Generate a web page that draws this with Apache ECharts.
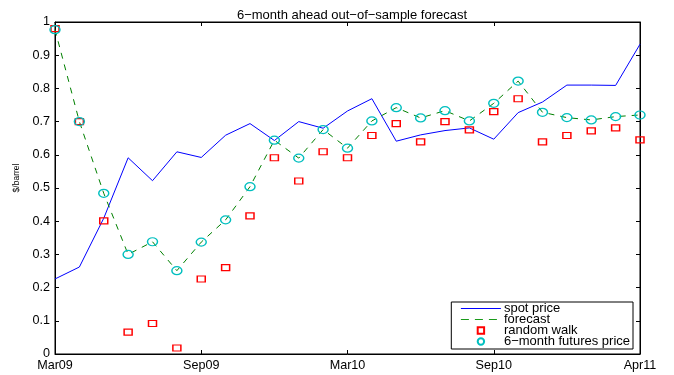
<!DOCTYPE html>
<html><head><meta charset="utf-8">
<script src="https://cdn.jsdelivr.net/npm/echarts@6/dist/echarts.min.js"></script>
<style>html,body{margin:0;padding:0;background:#fff}#c{width:674px;height:375px}</style>
</head><body><div id="c"></div>
<script>
var tickLabels = ["Mar09","Sep09","Mar10","Sep10","Apr11"];
var spotPrice = [0.226,0.262,0.409,0.591,0.522,0.609,0.592,0.659,0.694,0.643,0.700,0.680,0.732,0.769,0.641,0.660,0.673,0.681,0.647,0.727,0.759,0.810,0.810,0.809,0.933];
var forecast = [0.977,0.700,0.484,0.300,0.338,0.251,0.337,0.404,0.504,0.644,0.590,0.676,0.620,0.702,0.742,0.711,0.733,0.702,0.755,0.822,0.728,0.712,0.705,0.715,0.720];
var futuresPrice = [0.977,0.700,0.484,0.300,0.338,0.251,0.337,0.404,0.504,0.644,0.590,0.676,0.620,0.702,0.742,0.711,0.733,0.702,0.755,0.822,0.728,0.712,0.705,0.715,0.720];
var randomWalk = [0.980,0.700,0.401,0.066,0.092,0.018,0.226,0.260,0.416,0.591,0.521,0.609,0.591,0.658,0.694,0.639,0.700,0.675,0.730,0.769,0.639,0.658,0.672,0.681,0.645];
var seriesNames = ["spot price","forecast","random walk","6\u2212month futures price"];

function pairs(arr){ return arr.map(function(v,i){ return [i,v]; }); }
var FONT = "Liberation Sans, Arial, sans-serif";
var chart = echarts.init(document.getElementById('c'));
var axisCommon = {
  axisLine:{show:true,onZero:false,lineStyle:{color:'#000',width:1}},
  axisTick:{show:true,inside:true,length:4,lineStyle:{color:'#000'}},
  splitLine:{show:false}
};
chart.setOption({
  animation:false,
  backgroundColor:'#fff',
  title:{text:"6\u2212month ahead out\u2212of\u2212sample forecast",left:347,textAlign:'center',top:4,
    textStyle:{fontFamily:FONT,fontSize:13,fontWeight:'normal',color:'#000'}},
  grid:{left:55,top:22,right:34,bottom:21,show:true,borderColor:'#000',borderWidth:1,backgroundColor:'#fff'},
  legend:{orient:'vertical',right:41,bottom:26,itemWidth:40,itemHeight:8,itemGap:-2,
    backgroundColor:'#fff',borderColor:'#000',borderWidth:1,padding:[0,3,1,9],
    textStyle:{fontFamily:FONT,fontSize:13,color:'#000',lineHeight:11.3,padding:[0,0,0,-2]},
    data:[
      {name:seriesNames[0],itemStyle:{opacity:0},lineStyle:{width:1,color:'#0000ff'}},
      {name:seriesNames[1],itemStyle:{opacity:0},lineStyle:{width:1.2,color:'#1a9a1a',type:[8,6]}},
      {name:seriesNames[2]},
      {name:seriesNames[3]}
    ]},
  xAxis:[
    Object.assign({type:'value',min:0,max:24,interval:6,position:'bottom',
      axisLabel:{fontFamily:FONT,fontSize:12.6,color:'#000',margin:5,
        formatter:function(v){ return tickLabels[Math.round(v/6)]; }}},axisCommon),
    Object.assign({type:'value',min:0,max:24,interval:6,position:'top',axisLabel:{show:false}},axisCommon)
  ],
  yAxis:[
    Object.assign({type:'value',min:0,max:1,interval:0.1,position:'left',
      name:'$/barrel',nameLocation:'middle',nameGap:27,nameRotate:90,
      nameTextStyle:{fontFamily:FONT,fontSize:8.5,color:'#000',padding:[0,0,0,20]},
      axisLabel:{fontFamily:FONT,fontSize:12.6,color:'#000',margin:5,
        formatter:function(v){ return String(Math.round(v*10)/10); }}},axisCommon),
    Object.assign({type:'value',min:0,max:1,interval:0.1,position:'right',axisLabel:{show:false}},axisCommon)
  ],
  series:[
    {name:seriesNames[0],type:'line',data:pairs(spotPrice),showSymbol:false,symbol:'none',
      lineStyle:{color:'#0000ff',width:1},itemStyle:{color:'#0000ff'}},
    {name:seriesNames[1],type:'line',data:pairs(forecast),showSymbol:false,symbol:'none',
      lineStyle:{color:'#008000',width:1,type:[6,6]},itemStyle:{color:'#008000'}},
    {name:seriesNames[2],type:'line',data:pairs(randomWalk),symbol:'rect',symbolSize:[8,6],
      lineStyle:{opacity:0,width:0},itemStyle:{color:'rgba(255,255,255,0)',borderColor:'#ff0000',borderWidth:1.3}},
    {name:seriesNames[3],type:'line',data:pairs(futuresPrice),symbol:'circle',symbolSize:[10,8],
      lineStyle:{opacity:0,width:0},itemStyle:{color:'rgba(255,255,255,0)',borderColor:'#00bfbf',borderWidth:1.3}}
  ]
});
</script></body></html>
